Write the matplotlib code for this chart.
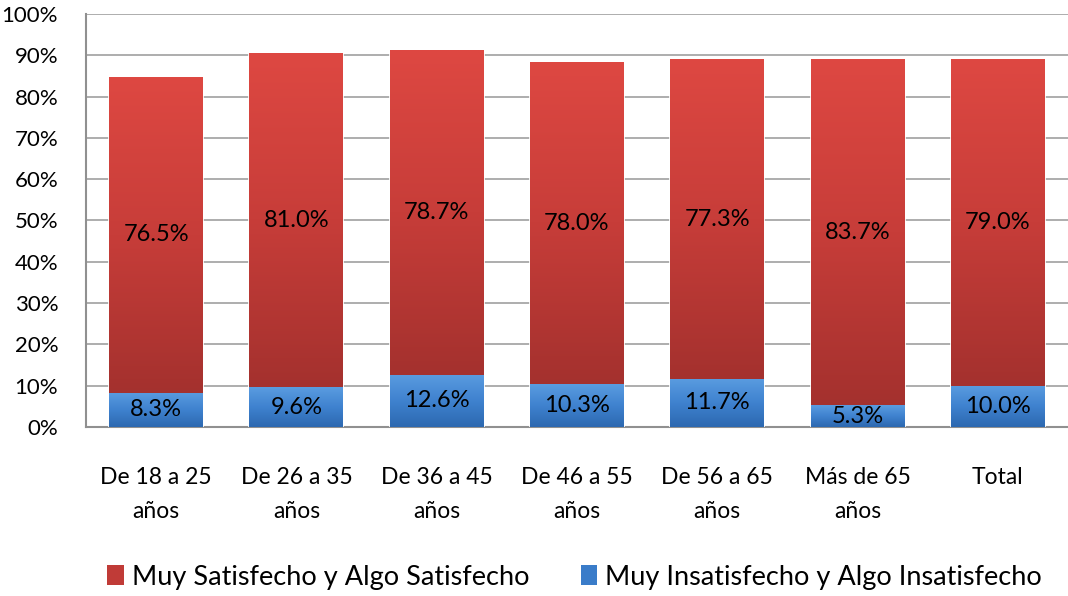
import matplotlib
matplotlib.use('Agg')
import matplotlib.pyplot as plt
import numpy as np
from matplotlib.colors import LinearSegmentedColormap
from matplotlib.patches import Patch

plt.rcParams['font.family'] = ['Lato', 'DejaVu Sans']

categories = ['De 18 a 25\naños', 'De 26 a 35\naños', 'De 36 a 45\naños', 'De 46 a 55\naños',
              'De 56 a 65\naños', 'Más de 65\naños', 'Total']
insatisfecho = [8.3, 9.6, 12.6, 10.3, 11.7, 5.3, 10.0]
satisfecho = [76.5, 81.0, 78.7, 78.0, 77.3, 83.7, 79.0]
yticks = list(range(0, 101, 10))

red_cmap = LinearSegmentedColormap.from_list('red', ['#A4312E', '#C73D39', '#DE4842'])
blue_cmap = LinearSegmentedColormap.from_list('blue', ['#2C68B0', '#3F82CF', '#5A9CE0'])

fig = plt.figure(figsize=(10.68, 5.96), dpi=100)
ax = fig.add_axes([0.0805, 0.2836, 0.9195, 0.693])

x = np.arange(len(categories))
b1 = ax.bar(x, insatisfecho, width=0.67, color='#3A7CC9', edgecolor='white', linewidth=1.2, zorder=3)
b2 = ax.bar(x, satisfecho, bottom=insatisfecho, width=0.67, color='#C03B37', edgecolor='white',
            linewidth=1.2, zorder=3)

# vertical gradient fill clipped to each bar
grad = np.linspace(0, 1, 256).reshape(-1, 1)
for bars, cmap in [(b1, blue_cmap), (b2, red_cmap)]:
    for p in bars:
        x0, y0 = p.get_x(), p.get_y()
        im = ax.imshow(grad, cmap=cmap, origin='lower', aspect='auto',
                       extent=[x0, x0 + p.get_width(), y0, y0 + p.get_height()], zorder=3.5)
        im.set_clip_path(p)

for i in range(len(categories)):
    ax.text(x[i], insatisfecho[i] / 2, f'{insatisfecho[i]:.1f}%', ha='center', va='center',
            fontsize=17, color='black', zorder=5)
    ax.text(x[i], insatisfecho[i] + satisfecho[i] / 2, f'{satisfecho[i]:.1f}%', ha='center',
            va='center', fontsize=17, color='black', zorder=5)

ax.set_xlim(-0.5, len(categories) - 0.5)
ax.set_ylim(0, 100)
ax.set_yticks(yticks)
ax.set_yticklabels([f'{t}%' for t in yticks], fontsize=16)
ax.set_xticks(x)
ax.set_xticklabels(categories, fontsize=16.5, linespacing=1.75)
ax.tick_params(axis='x', length=0, pad=29)
ax.tick_params(axis='y', length=0, pad=20)
ax.yaxis.grid(True, color='#A0A0A0', linewidth=1.2, zorder=0)
ax.set_axisbelow(True)
for s in ['top', 'right']:
    ax.spines[s].set_visible(False)
for s in ['left', 'bottom']:
    ax.spines[s].set_color('#909090')
    ax.spines[s].set_linewidth(1.5)

handles = [Patch(facecolor='#C03B37', label='Muy Satisfecho y Algo Satisfecho'),
           Patch(facecolor='#3A7CC9', label='Muy Insatisfecho y Algo Insatisfecho')]
fig.legend(handles=handles, loc='lower center', bbox_to_anchor=(0.538, -0.03), ncol=2,
           frameon=False, fontsize=19.5, handlelength=0.6, handleheight=0.8, handletextpad=0.3,
           columnspacing=1.9)

fig.savefig('out.png', dpi=100)
